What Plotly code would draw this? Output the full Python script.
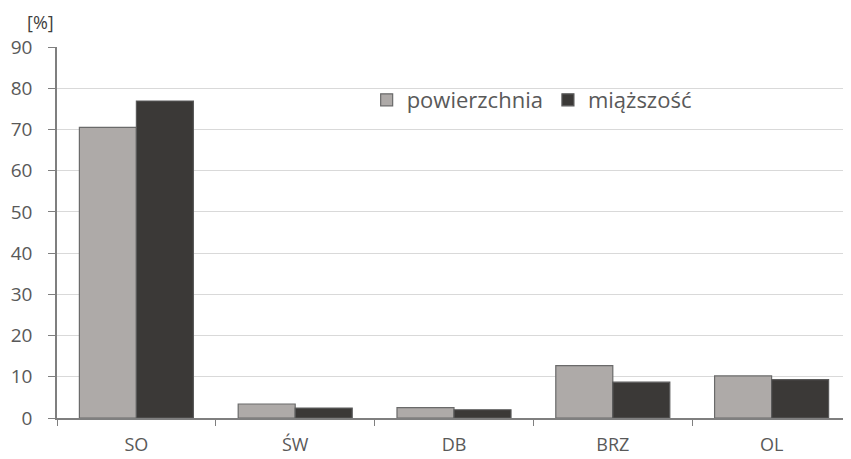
import plotly.graph_objects as go

categories = ["SO", "ŚW", "DB", "BRZ", "OL"]
powierzchnia = [70.5, 3.4, 2.5, 12.7, 10.2]
miazszosc = [76.9, 2.4, 2.0, 8.7, 9.3]
y_ticks = [0, 10, 20, 30, 40, 50, 60, 70, 80, 90]

fig = go.Figure()
fig.add_trace(go.Bar(
    x=categories, y=powierzchnia, name="powierzchnia",
    marker=dict(color="#aeaaa8", line=dict(color="#6a6a6a", width=1.2)),
))
fig.add_trace(go.Bar(
    x=categories, y=miazszosc, name="miąższość",
    marker=dict(color="#3b3937", line=dict(color="#5a5a5a", width=1.2)),
))

font_fam = "Open Sans, Noto Sans, DejaVu Sans, sans-serif"
# page body has an 8px margin, so figure is sized/offset accordingly
fig.update_layout(
    width=843, height=451,
    margin=dict(l=49, r=0, t=39, b=41, autoexpand=False),
    paper_bgcolor="white", plot_bgcolor="white",
    barmode="group", bargap=0.282, bargroupgap=0,
    font=dict(family=font_fam, size=18, color="#595959"),
    legend=dict(
        orientation="h", x=0.39, y=0.857, xanchor="left", yanchor="middle",
        font=dict(size=22, color="#595959"), itemwidth=30,
        bgcolor="rgba(0,0,0,0)", traceorder="normal",
    ),
    xaxis=dict(
        automargin=False,
        showline=True, linecolor="#7f7f7f", linewidth=1.5,
        ticks="outside", tickson="boundaries", ticklen=6, tickcolor="#7f7f7f",
        ticklabelstandoff=10,
        tickfont=dict(size=18, color="#595959"), showgrid=False,
    ),
    yaxis=dict(
        automargin=False,
        range=[0, 90], tickvals=y_ticks, showline=True, linecolor="#7f7f7f", linewidth=1.5,
        ticks="outside", ticklen=7, tickcolor="#7f7f7f", ticklabelstandoff=12,
        showgrid=True, gridcolor="#d9d9d9", gridwidth=1,
        tickfont=dict(size=19, color="#595959"), zeroline=False,
    ),
    annotations=[dict(
        text="[%]", xref="paper", yref="paper", x=0, y=1.0, xshift=-17, yshift=25,
        xanchor="center", yanchor="middle", showarrow=False,
        font=dict(size=18, color="#404040"),
    )],
)

fig.write_html("out.html")
